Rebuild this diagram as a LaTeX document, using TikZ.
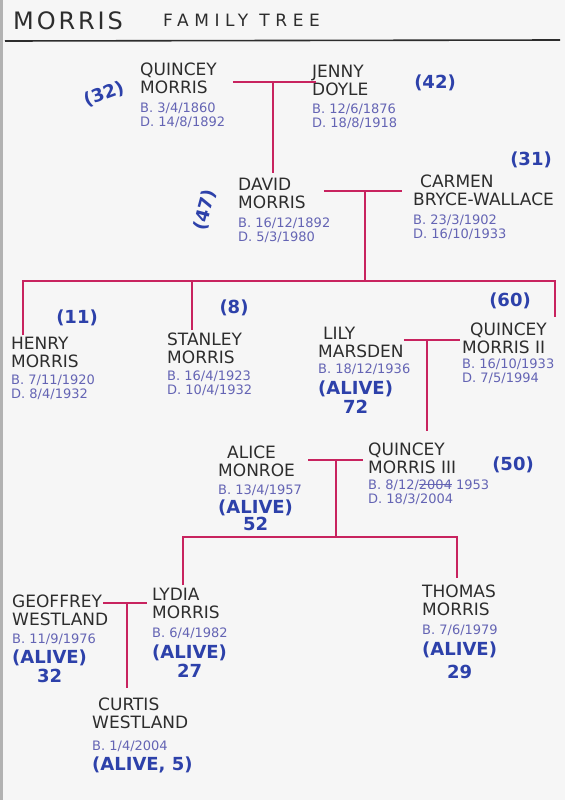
\documentclass[tikz,border=0pt]{standalone}
\usepackage{fontspec}
\setmainfont{DejaVu Sans}
\newfontfamily\titlefont[LetterSpace=12]{DejaVu Sans}
\newfontfamily\subtitlefont[LetterSpace=33]{DejaVu Sans}
\usetikzlibrary{positioning}
\definecolor{inkcolor}{RGB}{45,45,45}
\definecolor{datecolor}{RGB}{100,100,180}
\definecolor{agecolor}{RGB}{45,65,170}
\definecolor{tiecolor}{RGB}{200,35,95}
\definecolor{papercolor}{RGB}{246,246,246}
\newcommand\struckout[1]{\leavevmode\setbox0\hbox{#1}\rlap{\rule[0.4\ht0]{\wd0}{1.2pt}}\box0\relax}

\begin{document}
\begin{tikzpicture}[
    x=1pt, y=-1pt,
    person/.style={anchor=north west, inner sep=0pt, align=left, text=inkcolor, font=\fontsize{17}{18}\selectfont},
    dates/.style={inner sep=0pt, align=left, text=datecolor, font=\fontsize{13}{14}\selectfont},
    age/.style={inner sep=0pt, text=agecolor, font=\bfseries\fontsize{18}{18}\selectfont},
    tie/.style={draw=tiecolor, line width=2.6pt}
]
\fill[papercolor] (0,0) rectangle (565,800);
\useasboundingbox (0,0) rectangle (565,800);
\fill[gray!60] (0,0) rectangle (3,800);

% title
\node[anchor=base west, inner sep=0pt, text=inkcolor, font=\titlefont\fontsize{24}{24}\selectfont] (title) at (13,30) {MORRIS};
\node[anchor=base west, inner sep=0pt, text=inkcolor, font=\subtitlefont\fontsize{17}{17}\selectfont] (subtitle) at (163,27) {FAMILY TREE};
\draw[line width=1.6pt, inkcolor] (5,41) -- (560,40);

% first generation
\node[person] (qm1n) at (140,63) {QUINCEY\\MORRIS};
\node[dates, below=8pt of qm1n.south west, anchor=north west] (qm1d) {B. 3/4/1860\\D. 14/8/1892};
\node[age, rotate=20] (qm1a) at (104,94) {(32)};

\node[person] (jdn) at (312,65) {JENNY\\DOYLE};
\node[dates, below=8pt of jdn.south west, anchor=north west] (jdd) {B. 12/6/1876\\D. 18/8/1918};
\node[age] (jda) at (435,83) {(42)};

% second generation
\node[person] (dmn) at (238,178) {DAVID\\MORRIS};
\node[dates, below=9pt of dmn.south west, anchor=north west] (dmd) {B. 16/12/1892\\D. 5/3/1980};
\node[age, rotate=75] (dma) at (205,210) {(47)};

\node[person] (cbwn) at (413,175) {\hspace*{7pt}CARMEN\\BRYCE-WALLACE};
\node[dates, below=8pt of cbwn.south west, anchor=north west] (cbwd) {B. 23/3/1902\\D. 16/10/1933};
\node[age] (cbwa) at (531,160) {(31)};

% third generation
\node[person] (hmn) at (11,337) {HENRY\\MORRIS};
\node[dates, below=7pt of hmn.south west, anchor=north west] (hmd) {B. 7/11/1920\\D. 8/4/1932};
\node[age] (hma) at (77,318) {(11)};

\node[person] (smn) at (167,333) {STANLEY\\MORRIS};
\node[dates, below=6pt of smn.south west, anchor=north west] (smd) {B. 16/4/1923\\D. 10/4/1932};
\node[age] (sma) at (234,308) {(8)};

\node[person] (lmn) at (318,327) {\hspace*{5pt}LILY\\MARSDEN};
\node[dates, below=6pt of lmn.south west, anchor=north west] (lmd) {B. 18/12/1936};
\node[age, below=5pt of lmd.south west, anchor=north west] (lmal) {(ALIVE)};
\node[age, below=3pt of lmal] (lmy) {72};

\node[person] (qm2n) at (462,323) {\hspace*{8pt}QUINCEY\\MORRIS II};
\node[dates, below=4pt of qm2n.south west, anchor=north west] (qm2d) {B. 16/10/1933\\D. 7/5/1994};
\node[age] (qm2a) at (510,301) {(60)};

% fourth generation
\node[person] (amn) at (218,446) {\hspace*{9pt}ALICE\\MONROE};
\node[dates, below=7pt of amn.south west, anchor=north west] (amd) {B. 13/4/1957};
\node[age, below=4pt of amd.south west, anchor=north west] (amal) {(ALIVE)};
\node[age, below=1pt of amal] (amy) {52};

\node[person] (qm3n) at (368,443) {QUINCEY\\MORRIS III};
\node[dates, below=5pt of qm3n.south west, anchor=north west] (qm3d) {B. 8/12/\struckout{2004} 1953\\D. 18/3/2004};
\node[age] (qm3a) at (513,465) {(50)};

% fifth generation
\node[person] (gwn) at (12,595) {GEOFFREY\\WESTLAND};
\node[dates, below=7pt of gwn.south west, anchor=north west] (gwd) {B. 11/9/1976};
\node[age, below=5pt of gwd.south west, anchor=north west] (gwal) {(ALIVE)};
\node[age, below=3pt of gwal] (gwy) {32};

\node[person] (lymn) at (152,588) {LYDIA\\MORRIS};
\node[dates, below=9pt of lymn.south west, anchor=north west] (lymd) {B. 6/4/1982};
\node[age, below=5pt of lymd.south west, anchor=north west] (lymal) {(ALIVE)};
\node[age, below=3pt of lymal] (lymy) {27};

\node[person] (tmn) at (422,585) {THOMAS\\MORRIS};
\node[dates, below=8pt of tmn.south west, anchor=north west] (tmd) {B. 7/6/1979};
\node[age, below=6pt of tmd.south west, anchor=north west] (tmal) {(ALIVE)};
\node[age, below=7pt of tmal] (tmy) {29};

% sixth generation
\node[person] (cwn) at (92,698) {\hspace*{6pt}CURTIS\\WESTLAND};
\node[dates, below=11pt of cwn.south west, anchor=north west] (cwd) {B. 1/4/2004};
\node[age, below=5pt of cwd.south west, anchor=north west] (cwal) {(ALIVE, 5)};

% marriages and children
\coordinate (u1) at (273,82);
\draw[tie, shorten <=16pt, shorten >=-4pt] (qm1n.east |- u1) -- (jdn.west |- u1);
\draw[tie, shorten >=5pt] (u1) -- (u1 |- dmn.north);

\coordinate (u2) at (365,191);
\coordinate (k1) at (365,281);
\draw[tie, shorten <=18pt, shorten >=11pt] (dmn.east |- u2) -- (cbwn.west |- u2);
\draw[tie] (u2) -- (k1);
\draw[tie] ([xshift=12pt, yshift=2pt]hmn.north west) |- (k1) -| ([xshift=8pt, yshift=6pt]qm2n.north east);
\draw[tie] ([xshift=25pt, yshift=3pt]smn.north west) |- (k1);

\coordinate (u3) at (427,340);
\draw[tie, shorten >=2pt] (lmn.east |- u3) -- (qm2n.west |- u3);
\draw[tie, shorten >=12pt] (u3) -- (u3 |- qm3n.north);

\coordinate (u4) at (336,460);
\coordinate (k2) at (336,537);
\draw[tie, shorten <=13pt, shorten >=5pt] (amn.east |- u4) -- (qm3n.west |- u4);
\draw[tie] (u4) -- (k2);
\draw[tie] ([xshift=31pt, yshift=3pt]lymn.north west) |- (k2) -| ([xshift=35pt, yshift=7pt]tmn.north west);

\coordinate (u5) at (127,603);
\draw[tie, shorten <=-5pt, shorten >=5pt] (gwn.east |- u5) -- (lymn.west |- u5);
\draw[tie, shorten >=10pt] (u5) -- (u5 |- cwn.north);

\end{tikzpicture}
\end{document}
